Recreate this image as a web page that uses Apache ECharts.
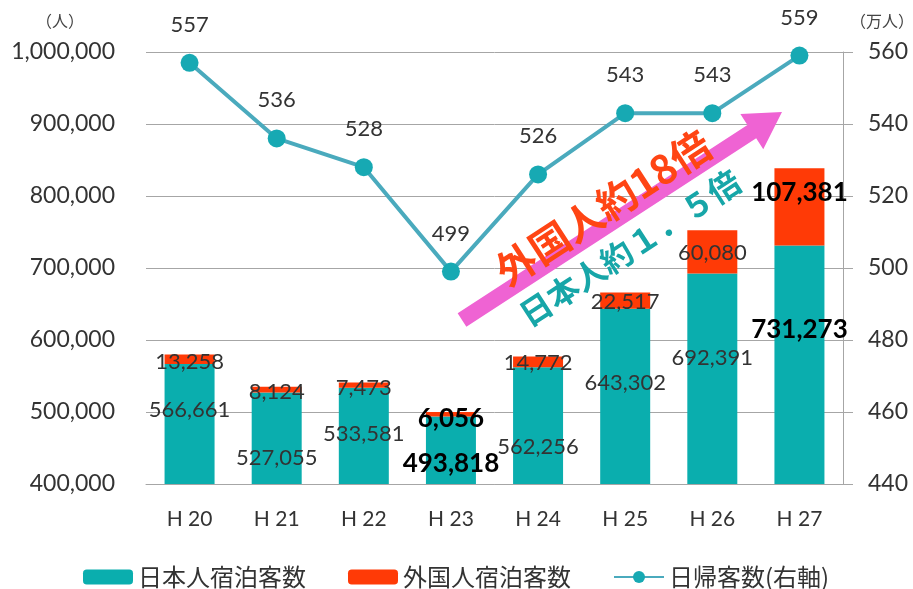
<!DOCTYPE html>
<html>
<head>
<meta charset="utf-8">
<script src="https://cdn.jsdelivr.net/npm/echarts@6/dist/echarts.min.js"></script>
<style>
  html, body { margin: 0; padding: 0; background: #fff; }
  #chart { width: 913px; height: 589px; }
</style>
</head>
<body>
<div id="chart"></div>
<script>
// 年度
var years = ['H 20', 'H 21', 'H 22', 'H 23', 'H 24', 'H 25', 'H 26', 'H 27']
// 日本人宿泊客数
var japanese = [566661, 527055, 533581, 493818, 562256, 643302, 692391, 731273]
// 外国人宿泊客数
var foreign = [13258, 8124, 7473, 6056, 14772, 22517, 60080, 107381]
// 日帰客数（万人）
var dayTrip = [557, 536, 528, 499, 526, 543, 543, 559]
var boldIdx = [3, 7]

// label placement (px below the bar top / offset from segment centre)
var jpLabelDy = [46, 65, 46, 47, 80, 74, 84, 84]
var fgLabelDy = [3, 2, 3, 4, 1, 1, 1, -14]

var numFont = 'Lato, "Liberation Sans", sans-serif'
var cjkFont = '"Noto Sans CJK JP", sans-serif'
var fmt = function (v) { return v.toLocaleString('en-US') }

var chart = echarts.init(document.getElementById('chart'))

// arrow geometry
var tail = [462, 320], tip = [782, 112]
var len = Math.hypot(tip[0] - tail[0], tip[1] - tail[1])
var u = [(tip[0] - tail[0]) / len, (tip[1] - tail[1]) / len]
var n = [-u[1], u[0]]
var base = [tip[0] - 36 * u[0], tip[1] - 36 * u[1]]
function pt(p, k) { return [p[0] + k * n[0], p[1] + k * n[1]] }
var arrowPts = [pt(tail, 8), pt(base, 8), pt(base, 21), tip, pt(base, -21), pt(base, -8), pt(tail, -8)]
var ang = Math.atan2(tail[1] - tip[1], tip[0] - tail[0])

chart.setOption({
  animation: false,
  grid: { left: 146, right: 70, top: 52, bottom: 105 },
  legend: {
    left: 78,
    top: 557,
    itemWidth: 50,
    itemHeight: 15,
    itemGap: 42,
    textStyle: { fontFamily: cjkFont, fontSize: 24, lineHeight: 30, color: '#333' },
    data: ['日本人宿泊客数', '外国人宿泊客数', '日帰客数(右軸)']
  },
  xAxis: {
    type: 'category',
    data: years,
    axisTick: { show: false },
    axisLine: { lineStyle: { color: '#a6a6a6', width: 1 } },
    axisLabel: { fontFamily: numFont, fontSize: 21, color: '#333', margin: 25 }
  },
  yAxis: [{
    type: 'value',
    min: 400000,
    max: 1000000,
    interval: 100000,
    axisLine: { show: false },
    axisTick: { show: false },
    splitLine: { lineStyle: { color: '#a6a6a6', width: 1 } },
    axisLabel: { fontFamily: numFont, fontSize: 23, color: '#333', margin: 31, formatter: fmt }
  }, {
    type: 'value',
    min: 440,
    max: 560,
    interval: 20,
    axisLine: { show: true, lineStyle: { color: '#a6a6a6', width: 1 } },
    axisTick: { show: true, inside: false, length: 10, lineStyle: { color: '#a6a6a6' } },
    splitLine: { show: false },
    axisLabel: { fontFamily: numFont, fontSize: 23, color: '#333', margin: 25 }
  }],
  series: [{
    name: '日本人宿泊客数',
    type: 'bar',
    stack: 'guest',
    barWidth: 50,
    itemStyle: { color: '#0aaeae' },
    data: japanese.map(function (v, i) {
      return {
        value: v,
        label: {
          show: true,
          position: ['50%', jpLabelDy[i]],
          align: 'center',
          verticalAlign: 'middle',
          fontFamily: numFont,
          fontSize: boldIdx.indexOf(i) >= 0 ? 26 : 22,
          fontWeight: boldIdx.indexOf(i) >= 0 ? 'bold' : 'normal',
          color: boldIdx.indexOf(i) >= 0 ? '#000' : '#333',
          formatter: function (p) { return fmt(p.value) }
        }
      }
    })
  }, {
    name: '外国人宿泊客数',
    type: 'bar',
    stack: 'guest',
    barWidth: 50,
    itemStyle: { color: '#ff3a06' },
    data: foreign.map(function (v, i) {
      return {
        value: v,
        label: {
          show: true,
          position: 'inside',
          offset: [0, fgLabelDy[i]],
          fontFamily: numFont,
          fontSize: boldIdx.indexOf(i) >= 0 ? 26 : 22,
          fontWeight: boldIdx.indexOf(i) >= 0 ? 'bold' : 'normal',
          color: boldIdx.indexOf(i) >= 0 ? '#000' : '#333',
          formatter: function (p) { return fmt(p.value) }
        }
      }
    })
  }, {
    name: '日帰客数(右軸)',
    type: 'line',
    yAxisIndex: 1,
    data: dayTrip,
    symbol: 'circle',
    symbolSize: 18,
    lineStyle: { color: '#4aaabd', width: 4 },
    itemStyle: { color: '#17a9b3' },
    label: {
      show: true,
      position: 'top',
      distance: 18,
      fontFamily: numFont,
      fontSize: 22,
      color: '#333'
    }
  }],
  graphic: [{
    type: 'text',
    left: 36,
    top: 13,
    style: { text: '（人）', font: '16px ' + cjkFont, fill: '#444' }
  }, {
    type: 'text',
    left: 850,
    top: 13,
    style: { text: '（万人）', font: '16px ' + cjkFont, fill: '#444' }
  }, {
    type: 'polygon',
    shape: { points: arrowPts },
    style: { fill: '#ef63d3' },
    z: 100
  }, {
    type: 'text',
    x: 603,
    y: 208,
    rotation: ang,
    z: 101,
    style: {
      text: '外国人約18倍',
      font: 'bold 40px ' + cjkFont,
      fill: '#ff4514',
      align: 'center',
      verticalAlign: 'middle'
    }
  }, {
    type: 'text',
    x: 630,
    y: 248,
    rotation: ang,
    z: 101,
    style: {
      text: '日本人約１．５倍',
      font: 'bold 32px ' + cjkFont,
      fill: '#17a6a8',
      align: 'center',
      verticalAlign: 'middle'
    }
  }]
})
</script>
</body>
</html>
